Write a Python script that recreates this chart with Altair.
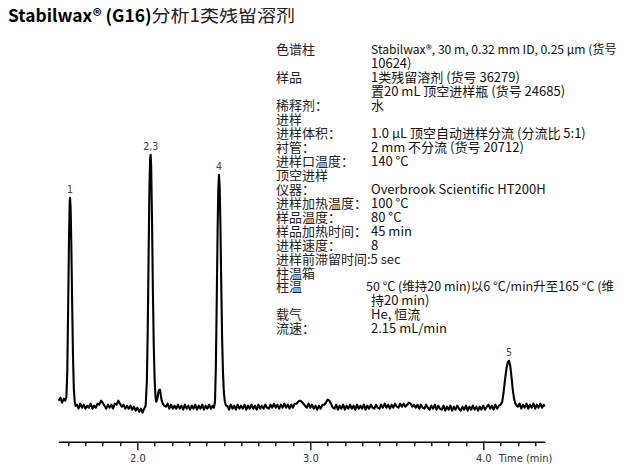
import altair as alt
import pandas as pd

# ---- chromatogram trace (time in min, detector signal in arbitrary units) ----
trace_time = [
    1.545, 1.555, 1.565, 1.575, 1.583,
    1.590, 1.595, 1.600, 1.605, 1.609, 1.611, 1.614, 1.618, 1.623, 1.628, 1.633, 1.638, 1.643,
    1.65, 1.66, 1.67, 1.68, 1.69, 1.70, 1.71, 1.72, 1.73, 1.74,
    1.75, 1.76, 1.77, 1.78, 1.79, 1.80, 1.81, 1.82, 1.83, 1.84,
    1.85, 1.86, 1.87, 1.88, 1.89, 1.90, 1.91, 1.92, 1.93, 1.94,
    1.95, 1.96, 1.97, 1.98, 1.99, 2.00, 2.01, 2.02, 2.03, 2.04,
    2.048, 2.055, 2.060, 2.065, 2.070, 2.074, 2.077, 2.080, 2.085, 2.090, 2.095, 2.100,
    2.105, 2.110, 2.117, 2.122, 2.127, 2.131, 2.136, 2.141, 2.147, 2.155, 2.165,
    2.175, 2.185, 2.195, 2.205, 2.215, 2.225, 2.235, 2.245, 2.255, 2.265,
    2.275, 2.285, 2.295, 2.305, 2.315, 2.325, 2.335, 2.345, 2.355, 2.365,
    2.375, 2.385, 2.395, 2.405, 2.415, 2.425, 2.435, 2.443,
    2.449, 2.454, 2.459, 2.464, 2.468, 2.472, 2.476, 2.480, 2.485, 2.490, 2.495, 2.500, 2.506, 2.513,
    2.52, 2.53, 2.54, 2.55, 2.56, 2.57, 2.58, 2.59, 2.60, 2.61,
    2.62, 2.63, 2.64, 2.65, 2.66, 2.67, 2.68, 2.69, 2.70, 2.71,
    2.72, 2.73, 2.74, 2.75, 2.76, 2.77, 2.78, 2.79, 2.80, 2.81,
    2.82, 2.83, 2.84, 2.85, 2.86, 2.87, 2.88, 2.89, 2.90, 2.91,
    2.92, 2.93, 2.94, 2.95, 2.96, 2.97, 2.98, 2.99, 3.00, 3.01,
    3.02, 3.03, 3.04, 3.05, 3.06, 3.07, 3.08, 3.09, 3.10, 3.11,
    3.12, 3.13, 3.14, 3.15, 3.16, 3.17, 3.18, 3.19, 3.20, 3.21,
    3.22, 3.23, 3.24, 3.25, 3.26, 3.27, 3.28, 3.29, 3.30, 3.31,
    3.32, 3.33, 3.34, 3.35, 3.36, 3.37, 3.38, 3.39, 3.40, 3.41,
    3.42, 3.43, 3.44, 3.45, 3.46, 3.47, 3.48, 3.49, 3.50, 3.51,
    3.52, 3.53, 3.54, 3.55, 3.56, 3.57, 3.58, 3.59, 3.60, 3.61,
    3.62, 3.63, 3.64, 3.65, 3.66, 3.67, 3.68, 3.69, 3.70, 3.71,
    3.72, 3.73, 3.74, 3.75, 3.76, 3.77, 3.78, 3.79, 3.80, 3.81,
    3.82, 3.83, 3.84, 3.85, 3.86, 3.87, 3.88, 3.89, 3.90, 3.91,
    3.92, 3.93, 3.94, 3.95, 3.96, 3.97, 3.98, 3.99, 4.00, 4.01,
    4.02, 4.03, 4.04, 4.05, 4.06, 4.07, 4.08, 4.09, 4.10,
    4.110, 4.118, 4.126, 4.134, 4.142, 4.149, 4.156, 4.163, 4.170, 4.178, 4.186, 4.194,
    4.20, 4.21, 4.22, 4.23, 4.24, 4.25, 4.26, 4.27, 4.28, 4.29,
    4.30, 4.31, 4.32, 4.33, 4.34, 4.35, 4.355,
]
trace_signal = [
    41, 44, 39, 43, 41,
    45, 70, 135, 205, 240, 244, 235, 200, 140, 85, 52, 40, 36,
    37, 33, 38, 34, 37, 33, 36, 34, 38, 33,
    36, 34, 38, 37, 41, 39, 36, 33, 37, 34,
    37, 33, 38, 37, 41, 38, 35, 37, 33, 36,
    33, 36, 32, 35, 31, 34, 30, 33, 29, 33,
    36, 60, 110, 185, 255, 283, 287, 275, 220, 150, 95, 62,
    45, 40, 44, 50, 52, 52, 46, 41, 38, 36, 35,
    38, 33, 37, 33, 36, 33, 37, 33, 36, 32,
    37, 33, 36, 32, 36, 33, 37, 32, 36, 33,
    37, 32, 36, 33, 37, 33, 36, 34,
    40, 75, 140, 210, 252, 267, 255, 220, 160, 105, 70, 50, 40, 36,
    36, 32, 37, 33, 36, 32, 37, 33, 36, 33,
    37, 32, 36, 33, 37, 33, 36, 32, 37, 33,
    36, 33, 37, 34, 33, 37, 34, 38, 34, 37,
    33, 37, 34, 38, 34, 37, 33, 37, 34, 38,
    38, 40, 41, 40, 38, 36, 34, 38, 34, 37,
    33, 36, 32, 36, 33, 37, 37, 39, 42, 41,
    38, 34, 33, 37, 32, 36, 33, 37, 32, 36,
    33, 37, 33, 36, 32, 37, 33, 36, 33, 37,
    32, 36, 33, 37, 34, 33, 37, 34, 33, 37,
    34, 38, 34, 37, 33, 37, 34, 38, 35, 34,
    38, 35, 38, 35, 37, 39, 38, 35, 37, 34,
    37, 33, 37, 34, 33, 37, 34, 32, 36, 33,
    37, 32, 36, 33, 32, 36, 31, 35, 32, 36,
    31, 35, 32, 36, 33, 31, 35, 32, 36, 31,
    35, 32, 36, 32, 35, 31, 35, 32, 36, 32,
    35, 37, 33, 36, 32, 37, 33, 36, 37,
    40, 50, 62, 73, 80, 81, 76, 65, 53, 43, 38, 36,
    35, 38, 33, 37, 34, 38, 33, 37, 34, 38,
    33, 37, 34, 38, 34, 37, 35,
]
assert len(trace_time) == len(trace_signal)

# ---- peak labels ----
peak_labels = ["1", "2,3", "4", "5"]
peak_time = [1.611, 2.077, 2.472, 4.149]
peak_signal = [244, 287, 267, 81]

# ---- axis ticks ----
tick_values = [1.6, 1.7, 1.8, 1.9, 2.0, 2.1, 2.2, 2.3, 2.4, 2.5, 2.6, 2.7, 2.8, 2.9,
               3.0, 3.1, 3.2, 3.3, 3.4, 3.5, 3.6, 3.7, 3.8, 3.9, 4.0, 4.1, 4.2, 4.3]
x_domain = [1.543, 4.357]

# ---- texts ----
title_bold = "Stabilwax® (G16)"
title_cn = "分析1类残留溶剂"

info_labels = [
    "色谱柱", "", "样品", "", "稀释剂：", "进样", "进样体积：", "衬管：", "进样口温度：",
    "顶空进样", "仪器：", "进样加热温度：", "样品温度：", "样品加热时间：", "进样速度：",
    "进样前滞留时间:5 sec", "柱温箱", "柱温", "", "载气", "流速：",
]
info_values = [
    "Stabilwax®, 30 m, 0.32 mm ID, 0.25 µm (货号", "10624)", "1类残留溶剂 (货号  36279)",
    "置20 mL 顶空进样瓶 (货号 24685)", "水", "", "1.0 µL 顶空自动进样分流 (分流比  5:1)",
    "2 mm 不分流 (货号 20712)", "140 °C", "", "Overbrook Scientific HT200H", "100 °C",
    "80 °C", "45 min", "8", "", "", "50 °C (维持20 min)以6 °C/min升至165 °C (维",
    "持20 min)", "He,  恒流", "2.15 mL/min",
]

CJK = "Noto Sans CJK SC"
NARROW = "Liberation Sans Narrow, DejaVu Sans Condensed, Roboto Condensed, sans-serif"
LH = 13.95          # line pitch of the info block
Y0 = -45.7          # baseline of first info line (relative to plot area)

trace_df = pd.DataFrame({"time": trace_time, "signal": trace_signal})
peaks_df = pd.DataFrame({"time": peak_time, "signal": peak_signal, "label": peak_labels})
one = pd.DataFrame({"k": [0]})

rows = list(range(len(info_labels)))
lab_df = pd.DataFrame({"row": rows, "txt": info_labels})
lab_df = lab_df[lab_df["txt"] != ""]
val_df = pd.DataFrame({"row": rows, "txt": info_values})
val_df = val_df[val_df["txt"] != ""]
# long lines are set slightly smaller so they fit like in the original; oven line starts a bit left
val_df["fs"] = val_df["row"].map({0: 12.1, 17: 12.5}).fillna(13)
val_df["px"] = val_df["row"].map({17: 307.7}).fillna(312.7)

is_major = "abs(datum.value - round(datum.value)) < 0.001"

x_enc = alt.X(
    "time:Q",
    scale=alt.Scale(domain=x_domain, nice=False, zero=False),
    axis=alt.Axis(
        values=tick_values,
        tickCount=60,
        title="Time (min)",
        grid=False,
        domainColor="black",
        domainWidth=1.5,
        tickColor="black",
        tickWidth=1.3,
        tickSize={"condition": {"test": is_major, "value": 8}, "value": 4},
        labelExpr=f"{is_major} ? format(datum.value, '.1f') : ''",
        labelOverlap=False,
        labelFont=NARROW,
        labelFontSize=11,
        labelColor="#333",
        labelPadding=3,
        labelFlush=False,
        titleFont=NARROW,
        titleFontSize=11,
        titleFontWeight="normal",
        titleColor="#333",
        titleX=466.7,
        titleY=11,
        titleAlign="center",
        titleBaseline="top",
        titleAngle=0,
    ),
)
y_enc = alt.Y("signal:Q", scale=alt.Scale(domain=[0, 341.7], nice=False, zero=False), axis=None)

line = alt.Chart(trace_df).mark_line(color="black", strokeWidth=2.1, strokeJoin="round").encode(
    x=x_enc, y=y_enc
)

labels = alt.Chart(peaks_df).mark_text(
    dy=-8, baseline="middle", fontSize=10.5, font=NARROW, color="#444"
).encode(x=alt.X("time:Q"), y=alt.Y("signal:Q"), text="label:N")

t_bold = alt.Chart(one).mark_text(
    align="left", baseline="alphabetic", fontSize=17.4, fontWeight="bold", font=CJK, color="black"
).encode(x=alt.value(-50.3), y=alt.value(-78), text=alt.value(title_bold))

t_cn = alt.Chart(one).mark_text(
    align="left", baseline="alphabetic", fontSize=19, font=CJK, color="#222"
).encode(x=alt.value(93.2), y=alt.value(-78), text=alt.value(title_cn))

info_l = (
    alt.Chart(lab_df)
    .transform_calculate(py=f"{Y0} + datum.row * {LH}")
    .mark_text(align="left", baseline="alphabetic", fontSize=13, font=CJK, color="#222")
    .encode(x=alt.value(217.7), y=alt.Y("py:Q", scale=None), text="txt:N")
)

info_r = (
    alt.Chart(val_df)
    .transform_calculate(py=f"{Y0} + datum.row * {LH}")
    .mark_text(align="left", baseline="alphabetic", font=CJK, color="#111")
    .encode(
        x=alt.X("px:Q", scale=None),
        y=alt.Y("py:Q", scale=None),
        text="txt:N",
        size=alt.Size("fs:Q", scale=None, legend=None),
    )
)

chart = (
    alt.layer(line, labels, t_bold, t_cn, info_l, info_r)
    .properties(
        width=486.7,
        height=341.7,
        autosize=alt.AutoSizeParams(type="none"),
        padding={"left": 50.3, "top": 92, "right": 73, "bottom": 24.3},
    )
    .configure_view(stroke=None)
)

chart.save("out.html", embed_options={"renderer": "svg", "actions": False})
